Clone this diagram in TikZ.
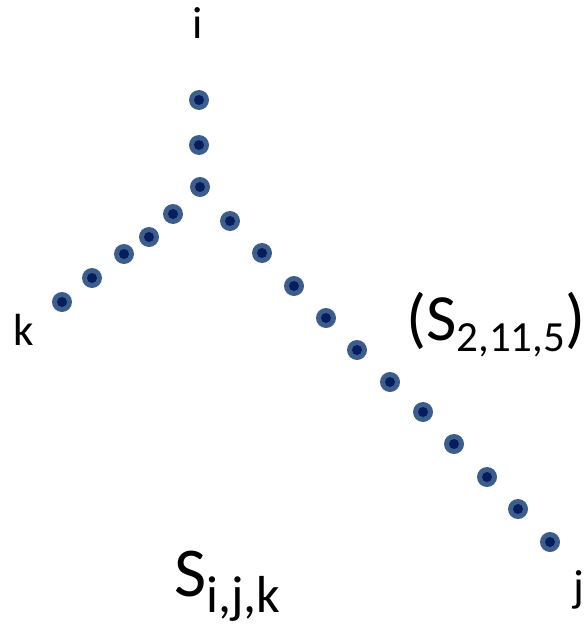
\documentclass[tikz,border=0pt]{standalone}
\usepackage{fontspec}
\setmainfont{Carlito}
\definecolor{dotouter}{RGB}{59,94,141}
\definecolor{dotinner}{RGB}{8,30,92}
\begin{document}
\begin{tikzpicture}[x=1pt,y=-1pt,
  pt/.style={circle,inner sep=0pt,minimum size=20pt,fill=dotouter,
    path picture={\fill[dotinner] (path picture bounding box.center) circle (5pt);}},
  lbl/.style={font=\fontsize{45}{45}\selectfont,inner sep=0pt,anchor=base west},
  big/.style={font=\fontsize{66}{66}\selectfont,inner sep=0pt,anchor=base west}]
\useasboundingbox (0,0) rectangle (584,626);
% vertical branch
\node[pt] (v1) at (199,100) {};
\node[pt] (v2) at (199,145) {};
\node[pt] (v3) at (200,187) {};
% left branch
\node[pt] (l1) at (173,214) {};
\node[pt] (l2) at (149,237) {};
\node[pt] (l3) at (124,254) {};
\node[pt] (l4) at (92,278) {};
\node[pt] (l5) at (62,302) {};
% right branch
\node[pt] (r1) at (230,221) {};
\node[pt] (r2) at (262,253) {};
\node[pt] (r3) at (294,286) {};
\node[pt] (r4) at (326,318) {};
\node[pt] (r5) at (357,350) {};
\node[pt] (r6) at (390,382) {};
\node[pt] (r7) at (423,412) {};
\node[pt] (r8) at (454,444) {};
\node[pt] (r9) at (487,477) {};
\node[pt] (r10) at (518,509) {};
\node[pt] (r11) at (550,542) {};
% labels
\node[lbl] (li) at (192,38) {i};
\node[lbl] (lk) at (13,345) {k};
\node[lbl] (lj) at (573,601) {j};
\node[big] (s2115) at (406,340) {(S\raisebox{-11pt}{\fontsize{43}{43}\selectfont 2,11,5})};
\node[big,font=\fontsize{70}{70}\selectfont] (sijk) at (174,596) {S\raisebox{-16pt}{\fontsize{52}{52}\selectfont i,j,k}};
\end{tikzpicture}
\end{document}
